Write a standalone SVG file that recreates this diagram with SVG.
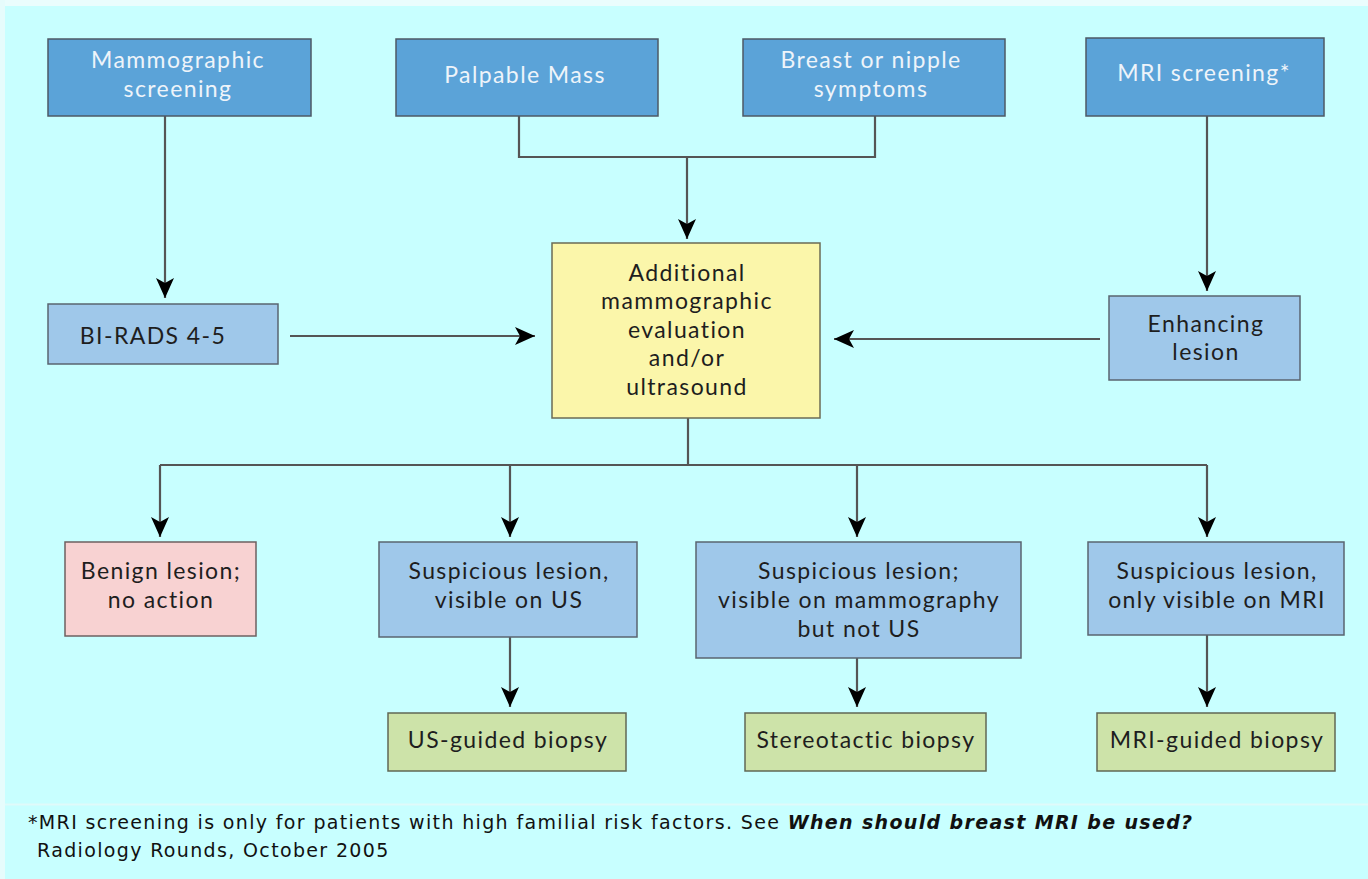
<svg xmlns="http://www.w3.org/2000/svg" width="1368" height="879" viewBox="0 0 1368 879">
<defs>
<marker id="ah" viewBox="0 0 20 18" refX="20" refY="9" markerWidth="20" markerHeight="18" markerUnits="userSpaceOnUse" orient="auto">
<path d="M0,0 L20,9 L0,18 L5,9 Z" fill="#000"/>
</marker>
<style>
.dk{fill:#5ba3d8;stroke:#4d5a66;stroke-width:1.5}
.lt{fill:#9fc8ea;stroke:#5a6570;stroke-width:1.5}
.ye{fill:#fbf6aa;stroke:#6b6b55;stroke-width:1.5}
.pk{fill:#f8d2d2;stroke:#6e6060;stroke-width:1.5}
.gr{fill:#cde3a9;stroke:#606855;stroke-width:1.5}
.t{font-family:Lato,"Open Sans",sans-serif;font-size:23px;text-anchor:middle;letter-spacing:1.4px}
.w{fill:#eef4fa}
.b{fill:#1e1e1e}
.c{fill:none;stroke:#555;stroke-width:2.2}
.f{font-family:"DejaVu Sans",Verdana,sans-serif;font-size:19px;fill:#111;letter-spacing:1.35px}
</style>
</defs>
<rect x="0" y="0" width="1368" height="879" fill="#c8ffff"/>
<rect x="0" y="0" width="1368" height="6" fill="#eafdfd"/>
<rect x="0" y="0" width="5" height="879" fill="#e6fcfc"/>
<line x1="5" y1="804.5" x2="1368" y2="804.5" stroke="#e0fafa" stroke-width="2"/>

<g id="connectors">
<path class="c" d="M165,116 V298" marker-end="url(#ah)"/>
<path class="c" d="M519,116 V157 H875 V116"/>
<path class="c" d="M687,157 V239" marker-end="url(#ah)"/>
<path class="c" d="M1207,116 V291" marker-end="url(#ah)"/>
<path class="c" d="M290,336 H535" stroke="#111" stroke-width="1.8" marker-end="url(#ah)"/>
<path class="c" d="M1100,339 H834" stroke="#111" stroke-width="1.8" marker-end="url(#ah)"/>
<path class="c" d="M688,418 V465" stroke="#222"/>
<path class="c" d="M160,465 H1207" stroke="#222"/>
<path class="c" d="M160,465 V537" stroke="#222" marker-end="url(#ah)"/>
<path class="c" d="M510,465 V537" stroke="#222" marker-end="url(#ah)"/>
<path class="c" d="M857,465 V537" stroke="#222" marker-end="url(#ah)"/>
<path class="c" d="M1207,465 V537" stroke="#222" marker-end="url(#ah)"/>
<path class="c" d="M510,637 V707" stroke="#222" marker-end="url(#ah)"/>
<path class="c" d="M857,658 V707" marker-end="url(#ah)"/>
<path class="c" d="M1207,635 V707" stroke="#222" marker-end="url(#ah)"/>
</g>

<g id="mammo-screening"><rect class="dk" x="48" y="39" width="263" height="77"/>
<text class="t w" x="178" y="68">Mammographic</text><text class="t w" x="178" y="97">screening</text></g>
<g id="palpable-mass"><rect class="dk" x="396" y="39" width="262" height="77"/>
<text class="t w" x="525" y="83">Palpable Mass</text></g>
<g id="breast-nipple"><rect class="dk" x="743" y="39" width="262" height="77"/>
<text class="t w" x="871" y="68">Breast or nipple</text><text class="t w" x="871" y="97">symptoms</text></g>
<g id="mri-screening"><rect class="dk" x="1086" y="38" width="238" height="78"/>
<text class="t w" x="1204" y="81">MRI screening*</text></g>

<g id="birads"><rect class="lt" x="48" y="304" width="230" height="60"/>
<text class="t b" x="153" y="344">BI-RADS 4-5</text></g>
<g id="additional"><rect class="ye" x="552" y="243" width="268" height="175"/>
<text class="t b" x="687" y="281">Additional</text>
<text class="t b" x="687" y="309">mammographic</text>
<text class="t b" x="687" y="338">evaluation</text>
<text class="t b" x="687" y="366">and/or</text>
<text class="t b" x="687" y="395">ultrasound</text></g>
<g id="enhancing"><rect class="lt" x="1109" y="296" width="191" height="84"/>
<text class="t b" x="1206" y="332">Enhancing</text><text class="t b" x="1206" y="360">lesion</text></g>

<g id="benign"><rect class="pk" x="65" y="542" width="191" height="94"/>
<text class="t b" x="161" y="579">Benign lesion;</text><text class="t b" x="161" y="608">no action</text></g>
<g id="susp-us"><rect class="lt" x="379" y="542" width="258" height="95"/>
<text class="t b" x="509" y="579">Suspicious lesion,</text><text class="t b" x="509" y="608">visible on US</text></g>
<g id="susp-mammo"><rect class="lt" x="696" y="542" width="325" height="116"/>
<text class="t b" x="859" y="579">Suspicious lesion;</text><text class="t b" x="859" y="608">visible on mammography</text><text class="t b" x="859" y="637">but not US</text></g>
<g id="susp-mri"><rect class="lt" x="1088" y="542" width="256" height="93"/>
<text class="t b" x="1217" y="579">Suspicious lesion,</text><text class="t b" x="1217" y="608">only visible on MRI</text></g>

<g id="us-biopsy"><rect class="gr" x="388" y="713" width="238" height="58"/>
<text class="t b" x="508" y="748">US-guided biopsy</text></g>
<g id="stereo-biopsy"><rect class="gr" x="745" y="713" width="241" height="58"/>
<text class="t b" x="866" y="748">Stereotactic biopsy</text></g>
<g id="mri-biopsy"><rect class="gr" x="1097" y="713" width="238" height="58"/>
<text class="t b" x="1217" y="748">MRI-guided biopsy</text></g>

<text class="f" x="28" y="829">*MRI screening is only for patients with high familial risk factors. See <tspan font-weight="bold" font-style="italic">When should breast MRI be used?</tspan></text>
<text class="f" x="37" y="857">Radiology Rounds, October 2005</text>
</svg>
